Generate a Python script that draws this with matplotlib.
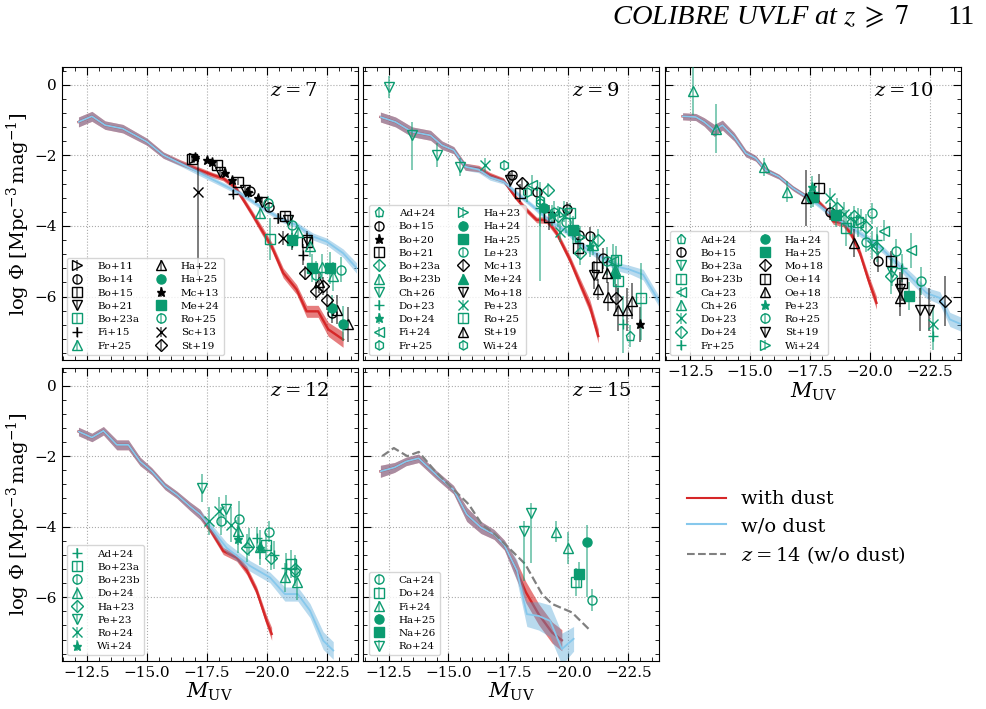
import matplotlib
matplotlib.use('Agg')
import matplotlib.pyplot as plt
from matplotlib.ticker import MultipleLocator
from matplotlib.colors import to_rgba
from matplotlib.lines import Line2D
import numpy as np

plt.rcParams['font.family'] = 'DejaVu Serif'
plt.rcParams['mathtext.fontset'] = 'dejavuserif'

GREEN = '#0b9b70'
RED = '#d62728'
BLUE = '#86c8ec'
BLUE_BAND = '#4fa3d6'

# ---------------- simulation curves ----------------
# z = 7
mag_z7_dust = [-12.15, -12.71, -13.26, -14.0, -15.0, -15.69, -16.39, -17.22, -17.78, -18.19, -18.68,
               -19.03, -19.38, -19.79, -20.21, -20.69, -21.25, -21.67, -22.15, -22.57, -23.19]
phi_z7_dust = [-1.05, -0.89, -1.14, -1.24, -1.61, -1.99, -2.2, -2.42, -2.56, -2.65, -2.89,
               -3.26, -3.64, -4.11, -4.58, -5.33, -5.8, -6.42, -6.42, -6.93, -7.22]
err_z7_dust = [0.14, 0.14, 0.12, 0.12, 0.1, 0.09, 0.08, 0.08, 0.07, 0.07, 0.08,
               0.09, 0.1, 0.12, 0.12, 0.14, 0.14, 0.17, 0.17, 0.2, 0.22]
mag_z7_nodust = [-12.15, -12.71, -13.26, -14.0, -15.0, -15.69, -16.39, -17.22, -18.06, -18.89, -19.86,
                 -20.69, -21.25, -21.94, -22.5, -23.19, -23.75]
phi_z7_nodust = [-1.05, -0.89, -1.14, -1.24, -1.61, -1.99, -2.22, -2.5, -2.79, -3.07, -3.5,
                 -3.83, -3.97, -4.3, -4.44, -4.77, -5.19]
err_z7_nodust = [0.14, 0.14, 0.12, 0.12, 0.1, 0.09, 0.08, 0.08, 0.07, 0.07, 0.07,
                 0.08, 0.08, 0.1, 0.1, 0.12, 0.15]

# z = 9
mag_z9_dust = [-12.16, -12.79, -13.48, -14.25, -14.73, -15.22, -15.7, -16.26, -16.73, -17.29, -17.78,
               -18.26, -18.68, -19.1, -19.51, -20.07, -20.48, -20.9, -21.25]
phi_z9_dust = [-0.91, -1.05, -1.33, -1.43, -1.71, -1.85, -2.32, -2.37, -2.56, -2.70, -3.17,
               -3.55, -3.83, -3.83, -4.2, -4.96, -5.62, -6.28, -7.12]
err_z9_dust = [0.14, 0.14, 0.14, 0.14, 0.12, 0.1, 0.1, 0.09, 0.08, 0.07, 0.07,
               0.08, 0.08, 0.1, 0.1, 0.12, 0.15, 0.18, 0.2]
mag_z9_nodust = [-12.16, -12.79, -13.48, -14.25, -14.73, -15.22, -15.7, -16.26, -16.73, -17.29, -17.85,
                 -18.54, -19.24, -19.93, -20.62, -21.32, -22.01, -22.57, -23.12, -23.82]
phi_z9_nodust = [-0.91, -1.05, -1.33, -1.43, -1.71, -1.85, -2.32, -2.4, -2.62, -2.74, -3.07,
                 -3.45, -3.87, -4.16, -4.58, -4.86, -5.15, -5.24, -5.38, -6.18]
err_z9_nodust = [0.14, 0.14, 0.14, 0.14, 0.12, 0.1, 0.1, 0.09, 0.08, 0.07, 0.07,
                 0.07, 0.08, 0.08, 0.1, 0.1, 0.12, 0.12, 0.15, 0.15]

# z = 10
mag_z10_dust = [-12.18, -12.73, -13.08, -13.5, -13.84, -14.33, -14.82, -15.23, -15.65, -16.2, -16.79,
                -17.35, -17.77, -18.18, -18.46, -18.88, -19.23, -19.58, -19.93, -20.27]
phi_z10_dust = [-0.89, -0.91, -1.05, -1.29, -1.14, -1.47, -1.94, -2.08, -2.42, -2.6, -2.93,
                -3.17, -3.26, -3.55, -3.87, -3.92, -4.25, -4.77, -5.52, -6.18]
err_z10_dust = [0.1, 0.1, 0.12, 0.17, 0.14, 0.12, 0.1, 0.08, 0.08, 0.07, 0.07,
                0.07, 0.07, 0.08, 0.08, 0.1, 0.1, 0.12, 0.15, 0.18]
mag_z10_nodust = [-12.18, -12.73, -13.08, -13.5, -13.84, -14.33, -14.82, -15.23, -15.65, -16.2, -16.79,
                  -17.35, -17.77, -18.46, -19.16, -19.86, -20.55, -21.25, -21.8, -22.36, -22.91,
                  -23.33, -23.82]
phi_z10_nodust = [-0.89, -0.91, -1.05, -1.29, -1.14, -1.47, -1.94, -2.08, -2.42, -2.6, -2.93,
                  -3.17, -3.36, -3.73, -4.02, -4.34, -4.68, -5.15, -5.52, -5.9, -6.04,
                  -6.65, -6.79]
err_z10_nodust = [0.1, 0.1, 0.12, 0.17, 0.14, 0.12, 0.1, 0.08, 0.08, 0.07, 0.07,
                  0.07, 0.07, 0.08, 0.08, 0.1, 0.1, 0.12, 0.15, 0.15, 0.18,
                  0.2, 0.2]

# z = 12
mag_z12_dust = [-12.15, -12.71, -13.19, -13.75, -14.23, -14.72, -15.21, -15.76, -16.25, -16.8, -17.22,
                -17.64, -18.19, -18.75, -19.17, -19.58, -20.0, -20.21]
phi_z12_dust = [-1.30, -1.47, -1.28, -1.68, -1.68, -2.15, -2.43, -2.85, -3.09, -3.42, -3.65,
                -4.08, -4.69, -4.88, -5.24, -5.81, -6.67, -7.04]
err_z12_dust = [0.12, 0.12, 0.12, 0.14, 0.14, 0.12, 0.1, 0.1, 0.1, 0.12, 0.14,
                0.1, 0.1, 0.1, 0.12, 0.12, 0.15, 0.18]
mag_z12_nodust = [-12.15, -12.71, -13.19, -13.75, -14.23, -14.72, -15.21, -15.76, -16.25, -16.8, -17.22,
                  -17.64, -18.33, -19.3, -20.14, -20.76, -21.3, -21.81, -22.36, -22.78]
phi_z12_nodust = [-1.30, -1.47, -1.28, -1.68, -1.68, -2.15, -2.43, -2.85, -3.09, -3.42, -3.65,
                  -4.0, -4.6, -5.11, -5.44, -5.91, -5.91, -6.38, -7.23, -7.51]
err_z12_nodust = [0.12, 0.12, 0.12, 0.14, 0.14, 0.12, 0.1, 0.1, 0.1, 0.12, 0.14,
                  0.12, 0.15, 0.15, 0.15, 0.2, 0.2, 0.2, 0.25, 0.25]

# z = 15
mag_z15_dust = [-12.16, -12.75, -13.23, -13.75, -14.48, -15.21, -15.76, -16.35, -16.9, -17.33,
                -17.79, -18.23, -18.76, -19.32, -19.73]
phi_z15_dust = [-2.43, -2.32, -2.15, -2.06, -2.52, -2.95, -3.65, -4.02, -4.22, -4.52,
                -5.16, -5.86, -6.48, -7.0, -7.22]
err_z15_dust = [0.17, 0.14, 0.12, 0.12, 0.12, 0.12, 0.2, 0.17, 0.14, 0.14,
                0.25, 0.3, 0.3, 0.3, 0.3]
mag_z15_nodust = [-12.16, -12.75, -13.23, -13.75, -14.48, -15.21, -15.76, -16.35, -16.9, -17.33,
                  -17.86, -18.27, -18.76, -19.24, -19.73, -20.22]
phi_z15_nodust = [-2.43, -2.32, -2.15, -2.06, -2.52, -2.95, -3.65, -4.02, -4.22, -4.52,
                  -5.25, -6.48, -6.53, -6.67, -7.47, -7.18]
err_z15_nodust = [0.17, 0.14, 0.12, 0.12, 0.12, 0.12, 0.2, 0.17, 0.14, 0.14,
                  0.3, 0.35, 0.4, 0.45, 0.45, 0.35]
mag_z14_nodust = [-12.23, -12.72, -13.28, -13.76, -14.45, -15.22, -15.85, -16.4, -16.95, -17.65,
                  -18.2, -18.9, -19.32, -20.15, -20.85]
phi_z14_nodust = [-2.0, -1.77, -2.0, -1.88, -2.43, -2.95, -3.37, -3.94, -4.22, -4.69,
                  -5.06, -5.91, -6.19, -6.43, -6.9]

# ---------------- observations: label -> (M_UV, log phi, error) ----------------
obs_z7 = {
    'Bo+11': ([-16.95], [-2.08], [0.12]),
    'Bo+14': ([-19.3, -20.1, -22.71], [-3.0, -3.45, -6.46], [0.1, 0.12, 0.3]),
    'Bo+15': ([-16.9, -17.92, -18.82, -20.76, -21.67], [-2.1, -2.27, -2.75, -3.73, -4.44],
              [0.12, 0.1, 0.1, 0.15, 0.25]),
    'Bo+21': ([-18.06, -19.1, -19.79, -20.9, -21.67], [-2.46, -2.98, -3.31, -3.83, -4.4],
              [0.1, 0.1, 0.1, 0.15, 0.25]),
    'Bo+23a': ([-20.14], [-4.37], [0.6]),
    'Fi+15': ([-18.61, -19.24, -20.49, -21.04, -21.53], [-3.09, -3.03, -3.78, -4.44, -4.82],
              [0.1, 0.1, 0.15, 0.25, 0.3]),
    'Fr+25': ([-19.72, -21.32, -21.81, -22.29, -22.78], [-3.62, -4.16, -4.58, -5.15, -5.43],
              [0.15, 0.2, 0.3, 0.35, 0.4]),
    'Ha+22': ([-22.2, -22.92, -23.4], [-5.6, -6.37, -6.79], [0.3, 0.4, 0.5]),
    'Ha+25': ([-22.71, -23.19], [-6.32, -6.77], [0.35, 0.5]),
    'Mc+13': ([-17.0, -17.5, -17.71, -18.26, -18.54, -19.24, -19.65], [-2.05, -2.13, -2.18, -2.51, -2.7, -3.03, -3.21],
              [0.08, 0.08, 0.08, 0.08, 0.1, 0.1, 0.1]),
    'Me+24': ([-21.04, -21.88, -22.64], [-4.39, -5.19, -5.19], [0.25, 0.4, 0.45]),
    'Ro+25': ([-20.07, -21.04, -22.08, -23.1], [-3.36, -3.97, -5.38, -5.24], [0.2, 0.25, 0.4, 0.35]),
    'Sc+13': ([-17.15, -20.69], [-3.03, -4.34], [(2.4, 0.95), 0.2]),
    'St+19': ([-21.6, -22.08, -22.36, -22.5], [-5.33, -5.85, -5.71, -6.09], [0.2, 0.25, 0.25, 0.3]),
}
obs_z9 = {
    'Ad+24': ([-22.56], [-7.12], [0.3]),
    'Bo+15': ([-17.64, -18.68, -19.93, -20.45, -20.9, -21.45], [-2.56, -3.03, -3.53, -4.25, -4.28, -4.91],
              [0.15, 0.15, 0.2, 0.2, 0.25, 0.3]),
    'Bo+20': ([-23.0], [-6.79], [0.5]),
    'Bo+21': ([-17.98, -19.2, -20.39, -21.18], [-3.06, -3.75, -4.61, -5.16], [0.25, 0.35, 0.3, 0.4]),
    'Bo+23a': ([-19.16, -19.58, -20.48, -21.24], [-2.98, -3.73, -4.77, -4.39], [0.2, 0.3, 0.35, 0.3]),
    'Bo+23b': ([-21.04, -21.94], [-4.53, -5.24], [0.3, 0.4]),
    'Ch+26': ([-12.5, -13.48, -14.53, -15.5], [-0.06, -1.43, -1.99, -2.32], [0.3, (0.98, 0.38), 0.35, 0.25]),
    'Do+23': ([-18.8, -22.29], [-3.5, -6.79], [0.5, 0.8]),
    'Do+24': ([-19.3, -20.9], [-3.7, -4.58], [0.3, 0.3]),
    'Fi+24': ([-18.47, -20.2, -21.87], [-2.84, -4.11, -5.0], [0.3, 0.4, 0.5]),
    'Fr+25': ([-17.3, -18.83], [-2.27, -3.36], [0.15, (2.2, 0.6)]),
    'Ha+23': ([-19.8, -20.5], [-3.6, -4.3], [0.3, 0.3]),
    'Ha+24': ([-19.0], [-3.5], [0.3]),
    'Ha+25': ([-20.2], [-4.1], [0.3]),
    'Le+23': ([-19.9, -21.6], [-3.9, -5.0], [0.3, 0.4]),
    'Mc+13': ([-18.05, -22.0], [-2.79, -6.04], [0.15, 0.4]),
    'Me+24': ([-21.94], [-5.33], [0.4]),
    'Mo+18': ([-17.57, -21.06], [-2.7, -5.38], [0.2, 0.4]),
    'Pe+23': ([-16.54, -19.65], [-2.27, -4.16], [0.2, 0.3]),
    'Ro+25': ([-20.07, -22.0, -22.08, -23.05], [-3.64, -4.96, -5.57, -6.04], [0.3, 0.4, 0.4, (1.2, 1.0)]),
    'St+19': ([-21.24, -21.6, -21.66, -22.08, -22.43, -22.64], [-5.8, -5.33, -6.0, -6.37, -6.37, -6.13],
              [0.3, 0.3, 0.4, 0.6, 0.6, 0.5]),
    'Wi+24': ([-18.26, -18.82, -19.4], [-3.03, -3.26, -3.6], [0.3, 0.35, 0.3]),
}
obs_z10 = {
    'Ad+24': ([-19.2], [-3.9], [0.3]),
    'Bo+15': ([-18.33, -20.33], [-3.59, -5.0], [0.25, 0.3]),
    'Bo+23a': ([-20.9], [-5.3], [0.4]),
    'Bo+23b': ([-18.98, -19.5], [-4.06, -3.9], [0.5, 0.4]),
    'Ca+23': ([-20.58, -21.69], [-4.13, -4.69], [0.3, 0.5]),
    'Ch+26': ([-12.6, -13.57, -15.58, -16.55], [-0.16, -1.24, -2.32, -3.03], [0.7, 0.7, 0.25, 0.3]),
    'Do+23': ([-18.32, -18.91, -20.09, -22.63], [-3.21, -3.66, -4.53, -6.79], [0.3, 0.35, 0.4, 0.5]),
    'Do+24': ([-18.63, -19.33, -19.82, -20.3, -20.86], [-3.5, -3.73, -4.02, -4.63, -5.43],
              [0.3, 0.3, 0.35, 0.4, 0.5]),
    'Fr+25': ([-20.3, -21.34, -22.63], [-4.39, -5.19, -7.12], [0.35, 0.4, 0.4]),
    'Ha+24': ([-17.55], [-3.2], [0.3]),
    'Ha+25': ([-17.61, -18.6, -21.62], [-3.17, -3.69, -5.99], [0.3, 0.35, 0.4]),
    'Mo+18': ([-23.12], [-6.13], [0.7]),
    'Oe+14': ([-17.87, -20.86, -21.34], [-2.93, -5.0, -5.62], [0.4, 0.3, 0.5]),
    'Oe+18': ([-17.32, -19.33, -21.27], [-3.21, -4.49, -6.04], [0.8, 0.4, 0.5]),
    'Pe+23': ([-17.58], [-2.89], [0.3]),
    'Ro+25': ([-19.82, -20.09, -21.07, -22.11], [-4.44, -3.64, -4.72, -5.57], [0.3, 0.3, 0.35, 0.4]),
    'St+19': ([-21.27, -22.08, -22.45], [-5.8, -6.37, -6.37], [0.5, 0.6, 0.6]),
    'Wi+24': ([-19.61], [-3.83], [0.3]),
}
obs_z12 = {
    'Ad+24': ([-19.58, -20.31, -20.82], [-4.31, -4.8, -5.16], [0.3, 0.4, 0.4]),
    'Bo+23a': ([-19.98, -21.03], [-4.52, -5.05], [0.35, 0.4]),
    'Bo+23b': ([-18.1, -18.83, -20.08, -21.18], [-3.84, -3.77, -4.14, -5.28], [0.4, 0.5, 0.3, 0.4]),
    'Do+24': ([-18.79, -19.28, -19.72, -20.78, -21.28], [-4.12, -4.43, -4.58, -5.44, -5.58],
              [0.4, 0.4, 0.5, 0.4, 0.5]),
    'Ha+23': ([-19.17, -20.17, -21.2], [-4.61, -4.88, -5.2], [0.4, 0.35, 0.4]),
    'Pe+23': ([-17.29, -18.31], [-2.9, -3.51], [0.4, 0.4]),
    'Ro+24': ([-17.61, -18.03, -18.51], [-3.84, -3.56, -3.94], [0.4, 0.4, 0.5]),
    'Wi+24': ([-18.82, -19.72], [-4.36, -4.61], [0.4, 0.3]),
}
obs_z15 = {
    'Ca+24': ([-20.98], [-6.08], [0.3]),
    'Do+24': ([-20.32], [-5.56], [0.4]),
    'Fi+24': ([-19.48, -19.97], [-4.14, -4.6], [0.3, 0.45]),
    'Ha+25': ([-20.8], [-4.43], [(1.57, 0.49)]),
    'Na+26': ([-20.46], [-5.35], [0.35]),
    'Ro+24': ([-18.16, -18.44], [-4.12, -3.61], [(1.42, 0.28), (1.41, 0.29)]),
}

# marker, colour, filled
style_z7 = {
    'Bo+11': ('>', 'k', False), 'Bo+14': ('o', 'k', False), 'Bo+15': ('s', 'k', False),
    'Bo+21': ('v', 'k', False), 'Bo+23a': ('s', GREEN, False), 'Fi+15': ('+', 'k', False),
    'Fr+25': ('^', GREEN, False), 'Ha+22': ('^', 'k', False), 'Ha+25': ('o', GREEN, True),
    'Mc+13': ('*', 'k', True), 'Me+24': ('s', GREEN, True), 'Ro+25': ('o', GREEN, False),
    'Sc+13': ('x', 'k', False), 'St+19': ('D', 'k', False),
}
style_z9 = {
    'Ad+24': ('p', GREEN, False), 'Bo+15': ('o', 'k', False), 'Bo+20': ('*', 'k', True),
    'Bo+21': ('s', 'k', False), 'Bo+23a': ('D', GREEN, False), 'Bo+23b': ('^', GREEN, False),
    'Ch+26': ('v', GREEN, False), 'Do+23': ('+', GREEN, False), 'Do+24': ('*', GREEN, True),
    'Fi+24': ('<', GREEN, False), 'Fr+25': ('h', GREEN, False), 'Ha+23': ('>', GREEN, False),
    'Ha+24': ('o', GREEN, True), 'Ha+25': ('s', GREEN, True), 'Le+23': ('o', GREEN, False),
    'Mc+13': ('D', 'k', False), 'Me+24': ('^', GREEN, True), 'Mo+18': ('v', 'k', False),
    'Pe+23': ('x', GREEN, False), 'Ro+25': ('s', GREEN, False), 'St+19': ('^', 'k', False),
    'Wi+24': ('h', GREEN, False),
}
style_z10 = {
    'Ad+24': ('p', GREEN, False), 'Bo+15': ('o', 'k', False), 'Bo+23a': ('v', GREEN, False),
    'Bo+23b': ('s', GREEN, False), 'Ca+23': ('<', GREEN, False), 'Ch+26': ('^', GREEN, False),
    'Do+23': ('x', GREEN, False), 'Do+24': ('D', GREEN, False), 'Fr+25': ('+', GREEN, False),
    'Ha+24': ('o', GREEN, True), 'Ha+25': ('s', GREEN, True), 'Mo+18': ('D', 'k', False),
    'Oe+14': ('s', 'k', False), 'Oe+18': ('^', 'k', False), 'Pe+23': ('*', GREEN, True),
    'Ro+25': ('o', GREEN, False), 'St+19': ('v', 'k', False), 'Wi+24': ('>', GREEN, False),
}
style_z12 = {
    'Ad+24': ('+', GREEN, False), 'Bo+23a': ('s', GREEN, False), 'Bo+23b': ('o', GREEN, False),
    'Do+24': ('^', GREEN, False), 'Ha+23': ('D', GREEN, False), 'Pe+23': ('v', GREEN, False),
    'Ro+24': ('x', GREEN, False), 'Wi+24': ('*', GREEN, True),
}
style_z15 = {
    'Ca+24': ('o', GREEN, False), 'Do+24': ('s', GREEN, False), 'Fi+24': ('^', GREEN, False),
    'Ha+25': ('o', GREEN, True), 'Na+26': ('s', GREEN, True), 'Ro+24': ('v', GREEN, False),
}


def band(ax, mag, phi, err, color, alpha, z):
    phi = np.array(phi)
    err = np.array(err)
    ax.fill_between(mag, phi - err, phi + err, color=color, alpha=alpha, lw=0, zorder=z)


def draw_sim(ax, md, pd, ed, mn, pn, en):
    band(ax, md, pd, ed, RED, 0.6, 1)
    ax.plot(md, pd, color=RED, lw=1.7, zorder=2)
    band(ax, mn, pn, en, BLUE_BAND, 0.4, 2.2)
    ax.plot(mn, pn, color=BLUE, lw=1.3, zorder=2.5)


def draw_obs(ax, obs, style):
    for lab, (m, p, e) in obs.items():
        mk, c, filled = style[lab]
        lo = [x[0] if isinstance(x, tuple) else x for x in e]
        hi = [x[1] if isinstance(x, tuple) else x for x in e]
        ax.errorbar(m, p, yerr=[lo, hi], fmt=mk, color=c, ecolor=to_rgba(c, 0.65),
                    mfc=c if filled else 'none', mec=c, ms=6.5, mew=1.0,
                    elinewidth=1.1, capsize=0, label=lab, zorder=3)


def style_axes(ax):
    ax.set_xlim(-11.45, -23.8)
    ax.set_ylim(-7.8, 0.5)
    ax.xaxis.set_major_locator(MultipleLocator(2.5))
    ax.xaxis.set_minor_locator(MultipleLocator(0.5))
    ax.yaxis.set_major_locator(MultipleLocator(2))
    ax.yaxis.set_minor_locator(MultipleLocator(0.4))
    ax.tick_params(which='both', direction='in', top=True, right=True, labelsize=11)
    ax.tick_params(which='major', length=6)
    ax.tick_params(which='minor', length=3)
    ax.grid(True, which='major', ls=':', color='#aaaaaa', lw=0.8)
    ax.set_axisbelow(True)


fig = plt.figure(figsize=(9.87, 7.09), dpi=100)
W, H = 987.0, 709.0
lefts = [61.7, 363.4, 665.1]
tops = [67.3, 368.0]
pw, ph = 296.0, 292.7


def make_ax(r, c):
    return fig.add_axes([lefts[c] / W, 1 - (tops[r] + ph) / H, pw / W, ph / H])


panels = [
    (0, 0, 7, (mag_z7_dust, phi_z7_dust, err_z7_dust, mag_z7_nodust, phi_z7_nodust, err_z7_nodust), obs_z7, style_z7, 2),
    (0, 1, 9, (mag_z9_dust, phi_z9_dust, err_z9_dust, mag_z9_nodust, phi_z9_nodust, err_z9_nodust), obs_z9, style_z9, 2),
    (0, 2, 10, (mag_z10_dust, phi_z10_dust, err_z10_dust, mag_z10_nodust, phi_z10_nodust, err_z10_nodust), obs_z10, style_z10, 2),
    (1, 0, 12, (mag_z12_dust, phi_z12_dust, err_z12_dust, mag_z12_nodust, phi_z12_nodust, err_z12_nodust), obs_z12, style_z12, 1),
    (1, 1, 15, (mag_z15_dust, phi_z15_dust, err_z15_dust, mag_z15_nodust, phi_z15_nodust, err_z15_nodust), obs_z15, style_z15, 1),
]

ylab = r'$\log\,\Phi\;[\mathrm{Mpc}^{-3}\,\mathrm{mag}^{-1}]$'
for r, c, z, sim, obs, sty, ncol in panels:
    ax = make_ax(r, c)
    style_axes(ax)
    draw_sim(ax, *sim)
    if z == 15:
        ax.plot(mag_z14_nodust, phi_z14_nodust, color='gray', ls='--', lw=1.6, zorder=2.6)
    draw_obs(ax, obs, sty)
    ax.text(0.705, 0.92, r'$z = %d$' % z, transform=ax.transAxes, fontsize=14,
            ha='left', va='center')
    leg = ax.legend(loc='lower left', ncol=ncol, fontsize=7.5, labelspacing=0.38,
                    handlelength=1.2, handletextpad=1.3, columnspacing=1.5,
                    borderpad=0.4, framealpha=0.8, borderaxespad=0.5)
    leg.set_zorder(5)
    if c == 0:
        ax.set_ylabel(ylab, fontsize=14, labelpad=2)
    else:
        ax.tick_params(labelleft=False)
    if r == 0 and c < 2:
        ax.tick_params(labelbottom=False)
    else:
        ax.set_xlabel(r'$M_{\rm UV}$', fontsize=15, labelpad=1)

# empty panel holding the line legend
handles = [Line2D([], [], color=RED, lw=1.5),
           Line2D([], [], color=BLUE, lw=1.5),
           Line2D([], [], color='gray', ls='--', lw=1.5)]
labels = ['with dust', 'w/o dust', r'$z = 14$ (w/o dust)']
fig.legend(handles, labels, loc='upper left', bbox_to_anchor=(0.678, 0.333),
           fontsize=14, frameon=False, handlelength=2.0, handletextpad=0.8, labelspacing=0.45)

fig.text(0.62, 0.976, r'COLIBRE UVLF at $z\;\geqslant\;7$', family='Liberation Serif',
         style='italic', fontsize=20.5, ha='left', va='center', math_fontfamily='stix')
fig.text(0.988, 0.976, '11', family='Liberation Serif', fontsize=20.5, ha='right', va='center')

fig.savefig('out.png', dpi=100)
plt.close(fig)
